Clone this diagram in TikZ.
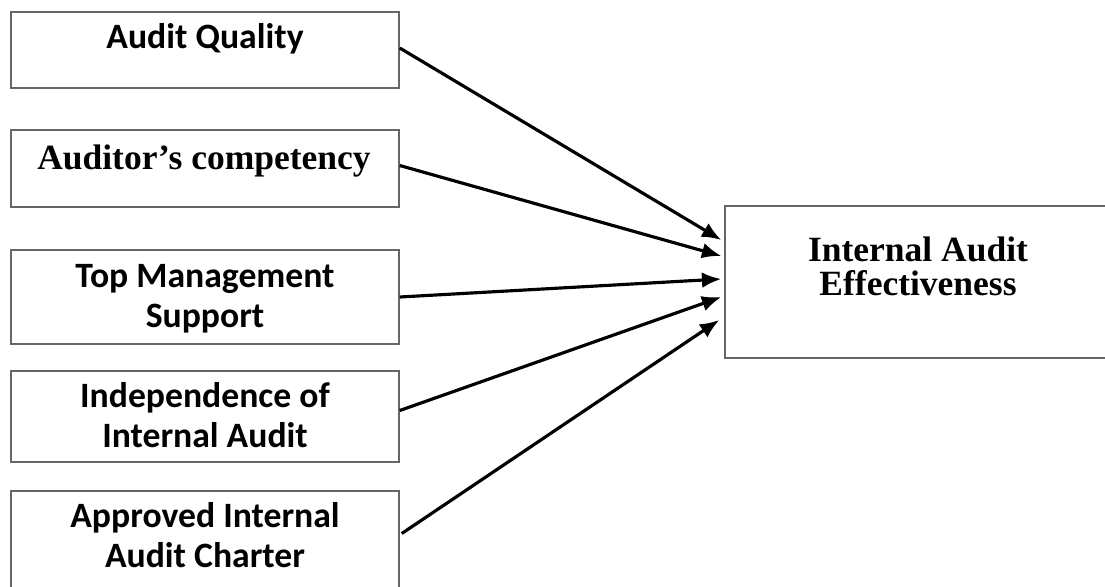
\documentclass[tikz,border=0pt]{standalone}
\usepackage{fontspec}
\setmainfont{Liberation Serif}
\newfontfamily\calibri{Carlito}
\usetikzlibrary{calc}
\usetikzlibrary{arrows.meta}

\begin{document}
\begin{tikzpicture}[x=0.02cm,y=-0.02cm,
    inbox/.style={draw=black!60, line width=0.9pt, minimum width=7.76cm, inner sep=0pt},
    outbox/.style={draw=black!60, line width=0.9pt, minimum width=7.8cm, minimum height=3.04cm, inner sep=0pt},
    sanstext/.style={font=\calibri\bfseries\fontsize{20.3}{23}\selectfont, align=center, inner sep=0pt},
    seriftext/.style={font=\bfseries\fontsize{20.2}{19.5}\selectfont, align=center, inner sep=0pt},
    link/.style={line width=1.8pt, -{Latex[length=11pt,width=9pt]}}]

\useasboundingbox (0,0) rectangle (1105,586);
\fill[white] (0,0) rectangle (1105,586);

% factors
\node[inbox, minimum height=1.52cm] (quality) at (205,50) {};
\node[inbox, minimum height=1.54cm] (competency) at (205,168.5) {};
\node[inbox, minimum height=1.88cm] (support) at (205,297) {};
\node[inbox, minimum height=1.82cm] (independence) at (205,416.5) {};
\node[inbox, minimum height=2.02cm] (charter) at (205,541.5) {};

\node[sanstext] (qualityText) at (205,39) {Audit Quality};
\node[seriftext] (competencyText) at (204,161) {Auditor’s competency};
\node[sanstext] (supportText) at (205,299) {Top Management\\Support};
\node[sanstext] (independenceText) at (205,415) {Independence of\\Internal Audit};
\node[sanstext] (charterText) at (205,535) {Approved Internal\\Audit Charter};

% outcome
\node[outbox] (effect) at (920,282) {};
\node[seriftext] (effectText) at (918,266) {Internal Audit\\Effectiveness};

\draw[link] ($(quality.east)+(0,-2)$) -- ($(effect.west)+(-3,-42)$);
\draw[link] ($(competency.east)+(0,-3)$) -- ($(effect.west)+(-3,-26)$);
\draw[link] (support.east) -- ($(effect.west)+(-3,-3)$);
\draw[link] ($(independence.east)+(0,-6)$) -- ($(effect.west)+(-3,15)$);
\draw[link] ($(charter.east)+(2,-8)$) -- ($(effect.west)+(-5,38)$);
\end{tikzpicture}
\end{document}
